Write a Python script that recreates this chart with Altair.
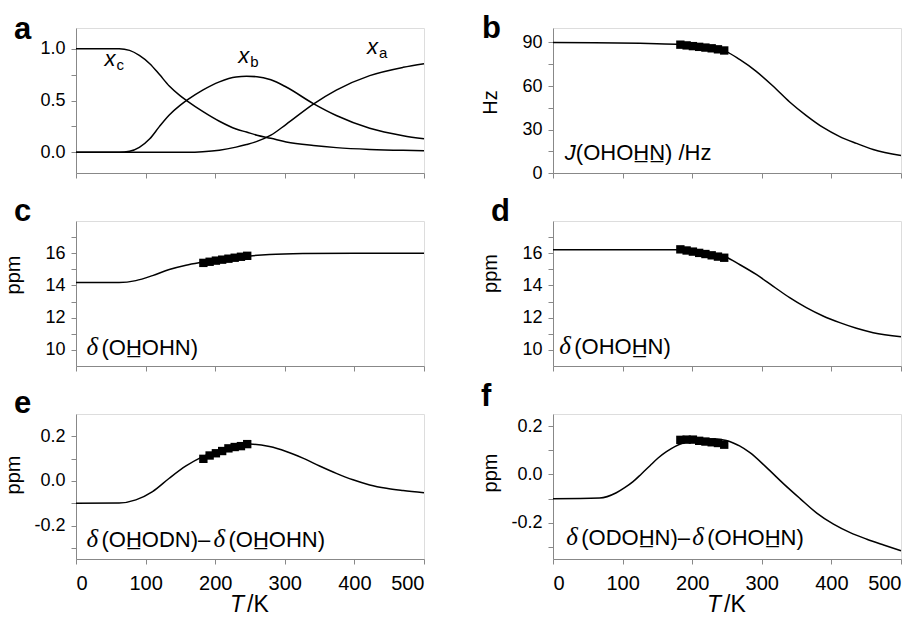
import altair as alt
import pandas as pd

FONT = "Liberation Sans"
SERIF = "Liberation Serif"
W, H = 348, 145
T_TICKS = [0, 100, 200, 300, 400, 500]

# ---------------- panel a : mole fractions ----------------
A_T = [0, 62, 77, 91, 106, 120, 134, 149, 161, 182, 206, 230, 245, 260, 280, 302, 341, 374, 422, 470, 500]
A_XC = [1.0, 1.0, 0.984, 0.935, 0.855, 0.75, 0.64, 0.55, 0.49, 0.395, 0.30, 0.225, 0.195, 0.165, 0.135, 0.10, 0.065, 0.045, 0.028, 0.019, 0.016]
A_XB = [0.0, 0.0, 0.01, 0.048, 0.13, 0.25, 0.36, 0.45, 0.51, 0.60, 0.68, 0.727, 0.733, 0.73, 0.70, 0.63, 0.47, 0.355, 0.232, 0.16, 0.13]
A_XA = [0.0, 0.0, 0.0, 0.0, 0.0, 0.0, 0.0, 0.0, 0.0, 0.005, 0.02, 0.05, 0.075, 0.105, 0.165, 0.27, 0.465, 0.60, 0.74, 0.82, 0.855]
A_LAB_MAIN = ["x", "x", "x"]
A_LAB_SUB = ["c", "b", "a"]
A_LAB_T = [41, 233, 418]
A_LAB_V = [0.83, 0.864, 0.945]

# ---------------- experimental temperatures ----------------
PT_T = [183, 192, 201, 210, 219, 228, 237, 246]

# ---------------- panel b : J(OHOHN) ----------------
B_T = [0, 60, 125, 177, 200, 225, 249, 268, 292, 316, 340, 364, 388, 412, 436, 460, 500]
B_V = [90.0, 89.9, 89.5, 88.8, 87.8, 86.2, 83.7, 78.3, 70.1, 60.0, 49.0, 39.6, 31.4, 25.1, 20.4, 16.2, 12.0]
B_PTS = [88.5, 88.0, 87.5, 87.0, 86.5, 86.0, 85.3, 84.5]

# ---------------- panel c : delta(OHOHN), first H ----------------
C_T = [0, 62, 86, 110, 134, 158, 178, 206, 230, 250, 278, 326, 400, 500]
C_V = [14.18, 14.18, 14.30, 14.61, 14.99, 15.26, 15.42, 15.60, 15.74, 15.83, 15.92, 15.98, 16.0, 16.0]
C_PTS = [15.40, 15.47, 15.54, 15.60, 15.66, 15.72, 15.78, 15.84]

# ---------------- panel d : delta(OHOHN), second H ----------------
D_T = [0, 100, 177, 200, 225, 249, 268, 292, 316, 340, 364, 388, 412, 436, 460, 500]
D_V = [16.22, 16.22, 16.21, 16.15, 16.0, 15.75, 15.30, 14.68, 13.96, 13.24, 12.62, 12.10, 11.69, 11.34, 11.07, 10.82]
D_PTS = [16.24, 16.17, 16.10, 16.02, 15.95, 15.87, 15.79, 15.72]

# ---------------- panel e : isotope effect, first H ----------------
E_T = [0, 62, 86, 110, 134, 158, 182, 206, 230, 250, 278, 302, 326, 350, 374, 398, 422, 446, 470, 500]
E_V = [-0.10, -0.099, -0.085, -0.048, 0.012, 0.067, 0.109, 0.139, 0.159, 0.165, 0.154, 0.132, 0.102, 0.067, 0.034, 0.005, -0.018, -0.033, -0.043, -0.053]
E_PTS = [0.099, 0.114, 0.124, 0.134, 0.146, 0.152, 0.156, 0.165]

# ---------------- panel f : isotope effect, second H ----------------
F_T = [0, 67, 91, 103, 115, 127, 139, 151, 163, 175, 187, 199, 211, 223, 235, 249, 259, 268, 283, 307, 331, 355, 379, 403, 427, 451, 475, 500]
F_V = [-0.101, -0.098, -0.076, -0.055, -0.030, 0.002, 0.035, 0.068, 0.094, 0.115, 0.130, 0.138, 0.142, 0.146, 0.147, 0.140, 0.130, 0.118, 0.090, 0.028, -0.038, -0.100, -0.160, -0.206, -0.241, -0.268, -0.292, -0.316]
F_PTS = [0.143, 0.144, 0.144, 0.139, 0.136, 0.133, 0.130, 0.123]

U = "\u0332"  # combining underline


def label_expr(pairs):
    expr = "''"
    for v, t in reversed(pairs):
        expr = f"abs(datum.value - ({v})) < 1e-6 ? '{t}' : ({expr})"
    return expr


def one(**kw):
    return pd.DataFrame({k: [v] for k, v in kw.items()})


def make_panel(letter, lx, ly, curves, pts, ydom, yticks, ylabels, ytitle, ytitle_y,
               annots, anchor, bottom, extra=None):
    xaxis_kw = dict(values=T_TICKS, labels=bottom, format="d", title=None, tickSize=5,
                    labelPadding=9, labelFontSize=20, grid=False)
    yaxis_kw = dict(values=yticks, labelExpr=label_expr(ylabels), tickSize=5, labelPadding=6,
                    labelFontSize=18, grid=False)
    if ytitle:
        yaxis_kw.update(title=ytitle, titleFontSize=20, titleFontWeight="normal", titleX=-57,
                        titleY=ytitle_y, titleAngle=270, titleAlign="center",
                        titleBaseline="alphabetic")
    else:
        yaxis_kw.update(title=None)
    x = alt.X("T:Q", scale=alt.Scale(domain=[0, 500], nice=False, zero=False), axis=alt.Axis(**xaxis_kw))
    y = alt.Y("v:Q", scale=alt.Scale(domain=ydom, nice=False, zero=False), axis=alt.Axis(**yaxis_kw))
    layers = [
        alt.Chart(curves).mark_line(color="black", strokeWidth=1.5, interpolate="monotone")
        .encode(x=x, y=y, detail="series:N")
    ]
    if pts is not None:
        layers.append(alt.Chart(pts).mark_square(size=70, color="black", opacity=1)
                      .encode(x=x, y=y))
    aT, aV = anchor
    for text, dx, fam, style, size in annots:
        layers.append(alt.Chart(one(T=aT, v=aV, s=text))
                      .mark_text(align="left", baseline="alphabetic", font=fam,
                                 fontStyle=style, fontSize=size, dx=dx, color="black")
                      .encode(x=x, y=y, text="s:N"))
    if extra:
        layers.extend(extra(x, y))
    if bottom:
        layers.append(alt.Chart(one(s="T")).mark_text(align="right", baseline="alphabetic", font=FONT,
                                                      fontStyle="italic", fontSize=23, color="black")
                      .encode(x=alt.value(W / 2 - 6), y=alt.value(H + 53), text="s:N"))
        layers.append(alt.Chart(one(s="/K")).mark_text(align="left", baseline="alphabetic", font=FONT,
                                                       fontSize=23, color="black")
                      .encode(x=alt.value(W / 2 - 3), y=alt.value(H + 53), text="s:N"))
    # panel letter
    layers.append(alt.Chart(one(s=letter)).mark_text(align="left", baseline="alphabetic", font=FONT,
                                                     fontWeight="bold", fontSize=31, color="black")
                  .encode(x=alt.value(lx), y=alt.value(ly), text="s:N"))
    return alt.layer(*layers).properties(width=W, height=H)


def series_df(T, v, name="s"):
    return pd.DataFrame({"T": T, "v": v, "series": name})


def pts_df(v):
    return pd.DataFrame({"T": PT_T, "v": v})


# panel a
a_curves = pd.concat([series_df(A_T, A_XC, "xc"), series_df(A_T, A_XB, "xb"),
                      series_df(A_T, A_XA, "xa")])
a_lab = pd.DataFrame({"T": A_LAB_T, "v": A_LAB_V, "m": A_LAB_MAIN, "s": A_LAB_SUB})


def a_extra(x, y):
    return [
        alt.Chart(a_lab).mark_text(align="left", baseline="alphabetic", font=FONT,
                                   fontStyle="italic", fontSize=22, color="black")
        .encode(x=x, y=y, text="m:N"),
        alt.Chart(a_lab).mark_text(align="left", baseline="alphabetic", font=FONT,
                                   fontSize=15, dx=12, dy=4, color="black")
        .encode(x=x, y=y, text="s:N"),
    ]


AF = 22  # annotation font size
DF = 25  # delta font size

pa = make_panel("a", -62, 11, a_curves, None, [-0.2, 1.2], [0, 0.25, 0.5, 0.75, 1.0],
                [(0, "0.0"), (0.5, "0.5"), (1.0, "1.0")], None, None, [], (0, 0), False,
                extra=a_extra)

pb = make_panel("b", -71, 10, series_df(B_T, B_V), pts_df(B_PTS), [0, 100],
                [0, 15, 30, 45, 60, 75, 90], [(0, "0"), (30, "30"), (60, "60"), (90, "90")],
                "Hz", 74,
                [("J", 0, FONT, "italic", AF), ("(OHOH" + U + "N" + U + ") /Hz", 11, FONT, "normal", AF)],
                (17, 9.1), False)

ppm_ticks = [10, 11, 12, 13, 14, 15, 16, 17]
ppm_labels = [(10, "10"), (12, "12"), (14, "14"), (16, "16")]

pc = make_panel("c", -62, 0, series_df(C_T, C_V), pts_df(C_PTS), [9, 18], ppm_ticks, ppm_labels,
                "ppm", 53.5,
                [("δ", 0, SERIF, "italic", DF), ("(OH" + U + "OHN)", 15, FONT, "normal", AF)],
                (15, 9.71), False)

pd_ = make_panel("d", -62, 0, series_df(D_T, D_V), pts_df(D_PTS), [9, 18], ppm_ticks, ppm_labels,
                 "ppm", 52,
                 [("δ", 0, SERIF, "italic", DF), ("(OHOH" + U + "N)", 15, FONT, "normal", AF)],
                 (9, 9.73), False)

iso_ticks = [-0.3, -0.2, -0.1, 0.0, 0.1, 0.2]
iso_labels = [(-0.2, "-0.2"), (0.0, "0.0"), (0.2, "0.2")]

pe = make_panel("e", -62, -1, series_df(E_T, E_V), pts_df(E_PTS), [-0.35, 0.3], iso_ticks, iso_labels,
                "ppm", 60.5,
                [("δ", 0, SERIF, "italic", DF), ("(OH" + U + "ODN)–", 15, FONT, "normal", AF),
                 ("δ", 127, SERIF, "italic", DF), ("(OH" + U + "OHN)", 142, FONT, "normal", AF)],
                (15, -0.295), True)

pf = make_panel("f", -72, -8, series_df(F_T, F_V), pts_df(F_PTS), [-0.35, 0.25], iso_ticks, iso_labels,
                "ppm", 58.5,
                [("δ", 0, SERIF, "italic", DF), ("(ODOH" + U + "N)–", 15, FONT, "normal", AF),
                 ("δ", 126, SERIF, "italic", DF), ("(OHOH" + U + "N)", 141, FONT, "normal", AF)],
                (19, -0.29), True)

chart = alt.concat(pa, pb, pc, pd_, pe, pf, columns=2, spacing={"row": 48, "column": 129},
                   bounds="flush").properties(
    padding={"left": -6, "top": 4, "right": 5, "bottom": 5}
).configure_view(stroke="black", strokeWidth=1).configure_axis(
    domainColor="black", tickColor="black", labelColor="black", titleColor="black",
    labelFont=FONT, titleFont=FONT, domainWidth=1, tickWidth=1, grid=False
).configure(background="white")

chart.save("out.html", embed_options={"renderer": "svg", "actions": False})
